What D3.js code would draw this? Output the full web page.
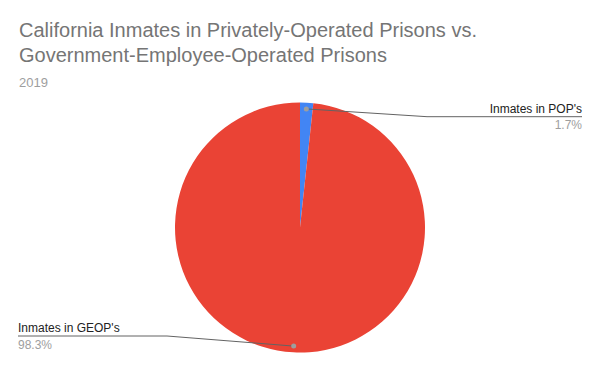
<!DOCTYPE html>
<html>
<head>
<meta charset="utf-8">
<script src="https://cdn.jsdelivr.net/npm/d3@7"></script>
<style>
  body { margin: 0; background: #fff; }
  text { font-family: Arial, "Liberation Sans", sans-serif; }
</style>
</head>
<body>
<svg id="chart" width="600" height="371"></svg>
<script>
const categories = ["Inmates in POP's", "Inmates in GEOP's"];
const values = [1.7, 98.3];
const percentLabels = ['1.7%', '98.3%'];
const colors = ['#4285f4', '#ea4335'];

const WIDTH = 600;
const HEIGHT = 371;
const CX = 300; // pie centre
const CY = 227.5;
const RADIUS = 125;

const svg = d3.select('#chart');

svg.append('rect')
  .attr('width', WIDTH)
  .attr('height', HEIGHT)
  .attr('fill', '#fff');

// title + subtitle
const title = svg.append('text')
  .attr('x', 19)
  .attr('y', 37)
  .attr('fill', '#757575')
  .style('font-size', '20px');
title.append('tspan').attr('x', 19).text('California Inmates in Privately-Operated Prisons vs.');
title.append('tspan').attr('x', 19).attr('dy', 25).text('Government-Employee-Operated Prisons');

svg.append('text')
  .attr('x', 19)
  .attr('y', 86.5)
  .attr('fill', '#9e9e9e')
  .style('font-size', '13px')
  .text('2019');

const pie = d3.pie().sort(null).value(d => d);
const arcs = pie(values);
const arc = d3.arc().innerRadius(0).outerRadius(RADIUS);

const g = svg.append('g').attr('transform', `translate(${CX}, ${CY})`);

g.selectAll('path.slice')
  .data(arcs)
  .enter()
  .append('path')
  .attr('class', 'slice')
  .attr('d', arc)
  .attr('fill', (d, i) => colors[i]);

// label layout: which side, where the label line sits, where the elbow is
const labelSide = ['right', 'left'];
const labelLineY = [116.7, 336];
const elbowX = [427, 167];
const labelEdgeX = [582, 18];

const pointArc = d3.arc().innerRadius(RADIUS * 0.95).outerRadius(RADIUS * 0.95);

arcs.forEach((d, i) => {
  const [px, py] = pointArc.centroid(d);
  const dotX = CX + px;
  const dotY = CY + py;

  svg.append('path')
    .attr('d', d3.line()([[dotX, dotY], [elbowX[i], labelLineY[i]], [labelEdgeX[i], labelLineY[i]]]))
    .attr('fill', 'none')
    .attr('stroke', '#636363')
    .attr('stroke-width', 1);

  svg.append('circle')
    .attr('cx', dotX)
    .attr('cy', dotY)
    .attr('r', 2.5)
    .attr('fill', '#9e9e9e');

  const anchor = labelSide[i] === 'right' ? 'end' : 'start';

  svg.append('text')
    .attr('x', labelEdgeX[i])
    .attr('y', labelLineY[i] - 4)
    .attr('text-anchor', anchor)
    .attr('fill', '#222')
    .style('font-size', '12px')
    .text(categories[i]);

  svg.append('text')
    .attr('x', labelEdgeX[i])
    .attr('y', labelLineY[i] + 12.5)
    .attr('text-anchor', anchor)
    .attr('fill', '#9e9e9e')
    .style('font-size', '12px')
    .text(percentLabels[i]);
});
</script>
</body>
</html>
